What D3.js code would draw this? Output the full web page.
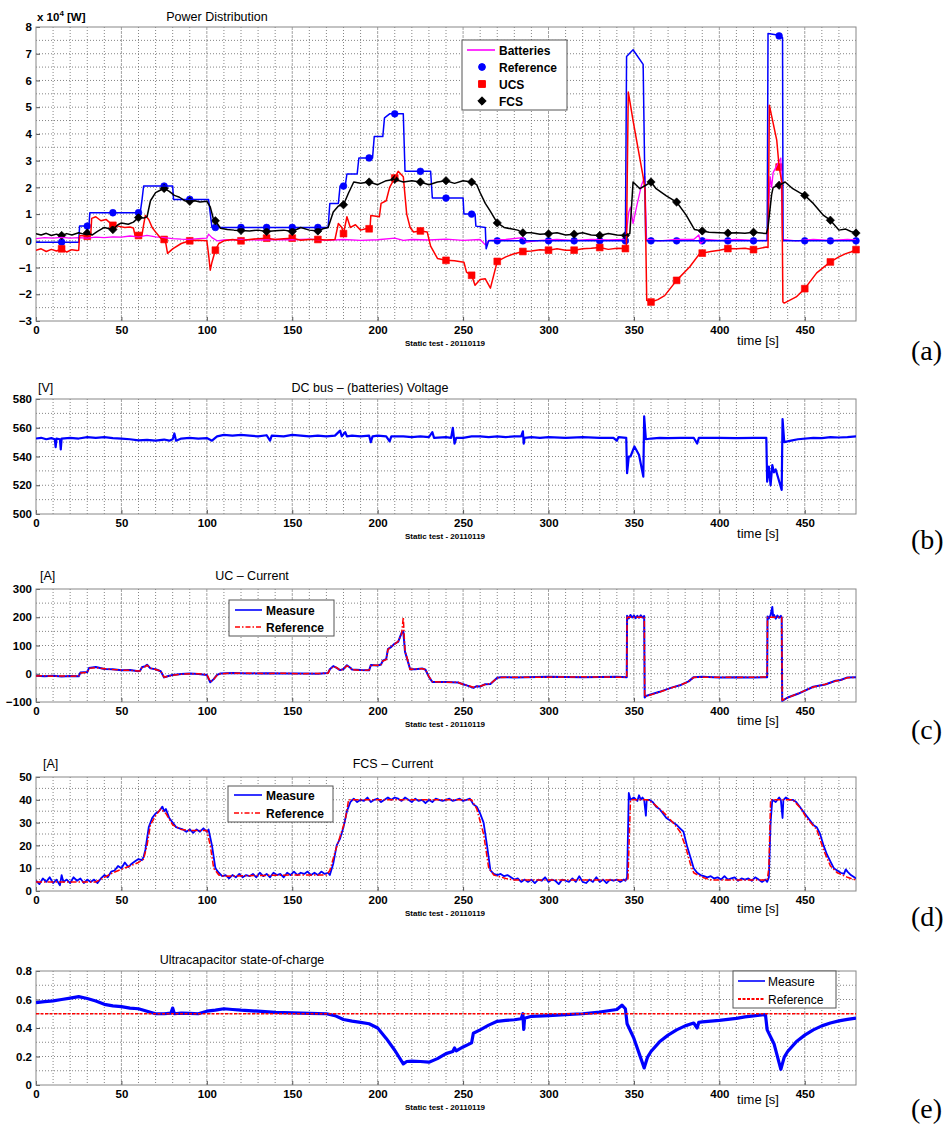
<!DOCTYPE html>
<html><head><meta charset="utf-8">
<script src="https://cdn.jsdelivr.net/npm/d3@7/dist/d3.min.js"></script>
<style>
body{margin:0;background:#fff}
svg{display:block}
</style>
</head><body>
<svg id="chart" width="951" height="1125" font-family="'Liberation Sans',Arial,sans-serif"></svg>
<script>
// ---------------- DATA ----------------
const timeTicks = [0,50,100,150,200,250,300,350,400,450];
const markerTimes = [15,30,45,60,75,90,105,120,135,150,165,180,195,210,225,240,255,270,285,300,315,330,345,360,375,390,405,420,435,450,465,480];

// Panel (a) Power distribution, x10^4 W
const powerTicks = [-3,-2,-1,0,1,2,3,4,5,6,7,8];
const batteries = [[0,0.08],[5,0.12],[10,0.1],[15,0.13],[20,0.1],[25,0.12],[30,0.1],[35,0.14],[40,0.12],[45,0.15],[50,0.14],[55,0.18],[60,0.15],[65,0.2],[70,0.15],[75,0.12],[80,0.08],[85,0.06],[90,0.05],[95,0.08],[100,0.1],[101,0.25],[103,0.12],[106,0.0],[110,0.03],[120,0.05],[130,0.03],[140,0.05],[150,0.04],[160,0.06],[170,0.02],[180,0.05],[190,0.02],[200,0.04],[210,0.1],[215,0.02],[220,0.05],[230,0.03],[240,0.06],[250,0.02],[260,0.05],[263,-0.15],[265,0.02],[275,0.05],[285,0.12],[287,-0.05],[295,0.02],[305,0.05],[315,0.02],[325,0.05],[335,0.03],[344,0.05],[345,0.0],[346,0.5],[347,1.08],[348,1.26],[349.5,0.65],[352,1.4],[354.5,2.1],[356.4,2.4],[357.4,0.05],[365,0.0],[375,0.05],[385,0.05],[388,0.22],[389,-0.1],[392,0.05],[400,0.02],[410,0.05],[420,0.02],[428,0.02],[429,1.5],[429.7,2.4],[430.6,2.0],[431.5,2.55],[433.5,2.8],[436,3.1],[437,0.05],[445,0.0],[455,0.05],[465,0.02],[475,0.05],[480,0.03]];
const referencePower = [[0,-0.05],[25,-0.05],[25.5,0.55],[31,0.55],[31.5,1.05],[61,1.05],[62,1.5],[63,2.05],[80,2.05],[80.5,1.55],[101,1.55],[103,0.5],[171,0.5],[172,1.4],[177,1.4],[178,2.05],[181,2.05],[182,2.5],[188,2.5],[189,3.1],[197,3.1],[198,3.9],[203,3.9],[204,4.6],[207,4.75],[215,4.75],[216,2.6],[231,2.6],[232,1.6],[250,1.6],[250.5,1.0],[257,1.0],[257.5,0.55],[263,0.5],[263.5,-0.3],[265,0],[345,0],[345.7,6.9],[349.5,7.15],[355.4,6.6],[356.9,0],[428,0],[428.5,7.76],[434,7.7],[437,7.6],[437.3,0],[480,0]];
const ucsPower = [[0,-0.35],[3,-0.3],[6,-0.4],[9,-0.32],[12,-0.38],[15,-0.3],[18,-0.42],[21,-0.33],[24,-0.36],[25,-0.35],[25.5,0.2],[30,0.17],[32,0.2],[32.6,0.84],[35,0.9],[38,0.75],[41,0.8],[45,0.58],[48,0.55],[52,0.5],[55,0.52],[57,0.48],[58,0.2],[62,0.2],[63,0.6],[64,0.95],[66,0.8],[68,0.5],[70.6,0.28],[73,0.1],[75,0.05],[76,-0.1],[77,-0.47],[80,-0.3],[85,-0.1],[90,0],[95,0.02],[100,0],[101,-0.5],[102,-1.1],[103,-0.8],[105,-0.35],[107,-0.1],[110,0],[115,0.05],[120,0.0],[125,0.05],[130,0.08],[135,0.1],[140,0.05],[145,0.08],[150,0.1],[155,0.02],[160,0.05],[165,0.05],[170,0.03],[175,0.05],[177,0.65],[179,0.5],[180,0.27],[182,0.9],[184,0.5],[187,0.6],[190,0.4],[193,0.45],[195.5,0.45],[196,0.95],[201,0.9],[202,1.4],[205,1.5],[207,2.0],[210,2.35],[212,2.6],[215,2.4],[217,1.0],[219,0.5],[221,0.33],[225,0.37],[229,0.33],[231,-0.2],[235,-0.66],[240,-0.73],[245,-0.75],[250.5,-0.8],[252,-1.17],[255,-1.29],[257,-1.66],[260,-1.45],[263,-1.42],[266,-1.77],[270,-0.77],[275,-0.6],[279,-0.5],[285,-0.4],[290,-0.38],[295,-0.33],[300,-0.35],[305,-0.3],[310,-0.35],[315,-0.35],[320,-0.3],[325,-0.28],[330,-0.25],[335,-0.32],[340,-0.28],[345,-0.29],[345.6,-0.29],[346.7,5.57],[349.5,4.5],[355.4,2.39],[356.5,1.9],[357.5,-2.23],[360,-2.29],[364,-2.2],[368,-2.05],[375,-1.48],[382.6,-0.98],[388.5,-0.48],[390,-0.46],[395,-0.4],[400,-0.35],[405,-0.29],[410,-0.3],[415,-0.28],[420,-0.33],[427.5,-0.23],[428.5,-0.25],[429.3,5.07],[433.6,3.77],[435,2.76],[436.6,2.2],[437.2,-2.29],[438,-2.33],[445,-2.1],[450,-1.79],[457,-1.2],[465,-0.79],[470,-0.6],[474,-0.48],[477,-0.42],[480,-0.33]];
const fcsPower = [[0,0.27],[3,0.22],[6,0.28],[9,0.2],[12,0.25],[15,0.2],[18,0.27],[21,0.22],[25,0.3],[28,0.25],[30,0.29],[33,0.22],[36,0.35],[40,0.5],[43,0.45],[45,0.42],[48,0.6],[50,0.67],[54,0.62],[57,0.7],[60,0.87],[63,0.85],[65,0.9],[67,1.5],[70,1.8],[73,1.9],[75,1.96],[78,1.85],[81,1.7],[84,1.63],[87,1.5],[90,1.48],[93,1.5],[96,1.45],[100,1.48],[102,1.27],[104,0.78],[105,0.75],[108,0.47],[112,0.42],[116,0.4],[120,0.39],[125,0.37],[130,0.4],[135,0.35],[140,0.38],[145,0.4],[150,0.35],[155,0.5],[160,0.4],[165,0.37],[168,0.45],[171,0.5],[174,1.08],[177,1.3],[180,1.35],[183,1.8],[186,2.2],[190,2.15],[195,2.2],[200,2.1],[205,2.25],[210,2.3],[215,2.2],[220,2.25],[225,2.2],[230,2.1],[235,2.2],[240,2.25],[245,2.15],[250,2.25],[255,2.2],[258,2.1],[260,1.8],[263,1.4],[266,1.1],[270,0.67],[274,0.5],[278,0.45],[282,0.4],[285,0.3],[290,0.3],[295,0.25],[300,0.26],[305,0.3],[310,0.22],[315,0.25],[320,0.3],[325,0.22],[330,0.2],[335,0.27],[340,0.22],[345,0.2],[347.6,0.27],[348.6,1.26],[349.5,2.2],[353.5,1.95],[356.4,2.06],[360,2.2],[363,1.95],[369,1.68],[375,1.45],[380.5,0.97],[385.5,0.42],[390,0.37],[394,0.32],[400,0.3],[405,0.29],[410,0.3],[415,0.28],[420,0.32],[427.5,0.27],[428.5,0.5],[430.6,1.73],[431.5,2.0],[435,2.08],[438.5,2.2],[443,1.95],[447,1.8],[450,1.7],[455,1.4],[461,0.95],[465,0.77],[470,0.4],[474,0.44],[477,0.35],[480,0.29]];

// Panel (b) DC bus voltage, V
const voltTicks = [500,520,540,560,580];
const busVoltage = [[0,552.5],[3,553],[6,552],[9,552.8],[11,552],[11.5,546.5],[12,552.5],[14,552],[14.5,545],[15,552.5],[20,553],[25,552.5],[30,553.5],[35,553],[40,553.5],[45,552.8],[50,552.5],[55,552],[60,551.2],[65,551.5],[70,551],[75,551.8],[78,551],[80,552],[81,556],[82,551],[85,552.5],[90,553],[95,552.5],[100,552.8],[103,551],[106,554],[110,555],[115,554.5],[120,555],[125,554.5],[130,554],[135,554.8],[137,551],[138,554.5],[145,554],[150,555],[155,554.5],[160,554],[165,554.5],[170,554],[175,554.5],[178,558],[179,554],[181,557],[182,554],[185,554.5],[190,554],[195,554.5],[196,550],[197,554],[200,554.5],[205,554],[207,550.5],[208,554],[215,554],[220,553.5],[225,554],[230,553.5],[232,557],[233,553],[240,553.5],[243,553],[244,560],[245,549],[246,553],[250,553],[255,554],[260,554],[265,553.5],[270,554],[275,553.5],[280,554],[284,554],[285,557.5],[285.5,549],[286,553],[290,553.5],[295,553],[300,553.5],[310,553],[320,553.5],[330,553],[338,553],[340,551],[341,553.5],[345.5,553],[346,528.4],[347,540],[348,540],[350.3,547],[353,541],[355.5,526],[356,568],[357,552],[360,552.5],[365,553],[370,552.8],[377,553],[385,553],[387,549],[388,553],[395,553],[400,553],[410,552.8],[420,553],[427.5,553],[428,522.5],[429,533],[430,520],[431,534],[432,529],[433,531],[436.5,516.8],[437,566],[438,550],[442,551],[446,552],[455,553],[460,552.8],[465,553.5],[470,553.2],[475,553.5],[480,554]];

// Panel (c) UC current, A
const ucTicks = [-100,0,100,200,300];
const ucReference = [[0,-8],[5,-7],[10,-9],[15,-8],[20,-9],[25,-8],[26,3],[30,5],[31,19],[35,22],[40,18],[45,15],[50,13],[55,12],[60,10],[61,10],[62,22],[64,25],[65,30],[67,20],[70,15],[73,10],[75,-12],[77,-10],[80,-5],[85,-2],[90,0],[95,0],[100,-3],[102,-28],[104,-20],[106,-5],[108,0],[115,2],[125,2],[135,1],[145,2],[155,0],[165,1],[171,2],[172,15],[174,25],[176,22],[178,12],[180,16],[182,28],[184,22],[185,14],[190,12],[195,13],[196,30],[200,30],[202,32],[203,45],[205,50],[206,85],[208,97],[210,105],[212,115],[214,140],[215,200],[216,80],[217,60],[219,15],[222,17],[226,18],[228,15],[230,-10],[232,-28],[240,-30],[247,-30],[250,-38],[253,-42],[256,-48],[258,-45],[260,-44],[263,-38],[266,-35],[270,-15],[272,-13],[280,-12],[300,-12],[320,-11],[340,-12],[345.8,-12],[346,200],[356.1,200],[356.3,-82],[357,-80],[365,-65],[372,-50],[377,-40],[382,-28],[385,-13],[390,-12],[400,-12],[410,-13],[420,-12],[428,-11],[428.2,200],[436.5,200],[436.8,-94],[440,-85],[446,-70],[455,-47],[462,-37],[468,-26],[471,-23],[475,-14],[480,-13]];
const ucMeasure = [[0,-7],[5,-9],[10,-7],[15,-10],[20,-8],[25,-9],[26,4],[30,6],[31,20],[35,24],[40,17],[45,16],[50,12],[55,13],[60,9],[61,11],[62,23],[64,27],[65,32],[67,19],[70,16],[73,9],[75,-13],[77,-9],[80,-4],[85,-1],[90,1],[95,-1],[100,-4],[102,-30],[104,-19],[106,-4],[108,1],[115,3],[125,1],[135,2],[145,1],[155,1],[165,0],[171,3],[172,16],[174,27],[176,21],[178,13],[180,17],[182,30],[184,21],[185,15],[190,13],[195,12],[196,31],[200,29],[202,33],[203,46],[205,52],[206,87],[208,95],[210,107],[212,113],[214,145],[215,150],[216,78],[217,58],[219,16],[222,16],[226,19],[228,14],[230,-11],[232,-29],[240,-29],[247,-31],[250,-37],[253,-43],[256,-50],[258,-44],[260,-45],[263,-37],[266,-36],[270,-14],[272,-12],[280,-13],[300,-11],[320,-12],[340,-11],[345.8,-12],[346,205],[347,196],[348,208],[349,199],[350,206],[351,197],[352,205],[353,198],[354,207],[355,199],[356,204],[356.3,-84],[357,-79],[365,-64],[372,-49],[377,-41],[382,-27],[385,-12],[390,-11],[400,-13],[410,-12],[420,-13],[428,-12],[428.2,203],[429,196],[430,207],[431,236],[431.5,200],[432,208],[433,195],[434,206],[435,198],[436,205],[436.5,199],[436.8,-96],[440,-84],[446,-71],[455,-46],[462,-38],[468,-25],[471,-22],[475,-13],[480,-12]];

// Panel (d) FCS current, A
const fcsTicks = [0,10,20,30,40,50];
const fcsReference = [[0,4],[35,4],[40,6],[45,8],[50,9.5],[55,11],[60,12.5],[63,14],[65,20],[67,29],[70,33],[73,36],[76,34],[80,29],[85,27],[90,26.5],[100,26.5],[102,20],[104,10],[107,7],[110,6.5],[130,6.8],[150,7],[170,7],[172,9],[175,17],[178,24],[181,31],[183,40],[255,40],[258,36],[262,25],[265,10],[268,7],[275,5.5],[280,4.8],[345,4.8],[346.5,5],[348,40],[358,40],[362,38],[368,34],[374,29],[377,26],[380,20],[383,12],[385,8],[390,6],[395,4.8],[428,4.8],[429,10],[430,40],[443,40],[448,36],[451,32],[457,27],[461,18],[465,11],[469,8],[475,6],[480,4.8]];
const fcsMeasure = [[0,4.5],[2,3],[4,5.5],[6,4],[8,6],[10,3.5],[12,5],[14,2.5],[15,7],[16,4],[18,5],[20,3.5],[22,6],[24,4.5],[26,5.5],[28,3.5],[30,5],[32,4],[34,5],[36,3.5],[38,5.5],[40,7],[42,6],[44,8.5],[46,9],[48,11],[50,10],[52,12.5],[54,10.5],[56,12],[58,13],[60,14],[62,13.5],[63,15],[64,18],[66,28],[68,32],[70,34],[72,35],[74,37],[75,35],[76,36],[78,32],[80,30],[82,28],[84,27.5],[86,27],[88,26],[90,27],[92,25.5],[94,27],[96,26],[98,27.5],[100,26],[101,27],[103,20],[105,10],[107,8],[109,6.5],[111,7],[113,5.5],[115,7],[117,6],[119,7.5],[121,6],[123,7],[125,6.5],[127,7.5],[129,6],[131,8],[133,6.5],[135,7.5],[137,6],[139,8],[141,7],[143,7.5],[145,6],[147,8],[149,7],[151,8.5],[153,7],[155,8],[157,7.5],[159,8.5],[161,7],[163,8],[165,7],[167,8.5],[169,7.5],[171,8],[172,7],[174,12],[176,20],[178,23],[180,28],[182,35],[184,39],[186,40.5],[188,39],[190,40],[192,39.5],[194,41],[196,39],[198,40],[200,40.5],[202,39],[204,40],[206,41],[208,40],[210,41],[212,40.5],[214,39.5],[216,41],[218,40],[220,39],[222,40.5],[224,39.5],[226,40],[228,38.5],[230,40],[232,39],[234,40.5],[236,40],[238,39.5],[240,40],[242,40.5],[244,39.5],[246,40],[248,40.5],[250,39.5],[252,40],[254,40.5],[256,38],[258,37],[260,34],[262,30],[264,20],[266,9],[268,7.5],[270,7],[272,7.5],[274,6.5],[276,7],[278,6],[280,5],[282,5.5],[284,4],[286,5],[288,4],[290,5],[292,3.5],[294,5],[296,4.5],[298,6],[300,4],[302,5],[304,4.5],[306,3],[308,5],[310,4.5],[312,4],[314,5.5],[316,4],[318,6.5],[320,4],[322,3.5],[324,5],[326,4],[328,6],[330,4],[332,5],[334,3.5],[336,5],[338,4.5],[340,5],[342,4],[344,5],[345,4.5],[346,6],[347,43],[348,40],[350,41],[352,39.5],[353,42],[354,40],[355,41],[356,40],[357,33],[357.5,40],[359,40],[361,39],[363,37],[365,36],[367,34],[369,32],[371,31],[373,30],[375,29],[377,27.5],[379,26],[381,20],[383,15],[385,10],[387,8],[389,7],[391,6.5],[393,6],[395,6.5],[397,5.5],[399,6],[401,5],[403,6.5],[405,5],[407,5.5],[409,6],[411,4.5],[413,5.5],[415,5],[417,5.5],[419,4.5],[421,6],[423,5],[425,4],[427,5],[428,4],[429,6],[430,30],[431,40],[433,39],[435,41],[436,40],[437,32],[437.5,40],[439,41],[441,40],[443,40],[445,39],[447,37],[449,35],[451,33],[453,31],[455,29],[457,28],[459,25],[461,20],[463,16],[465,13],[467,10],[469,9],[471,8],[473,7.5],[474,9.5],[475,8.5],[477,7],[479,6],[480,5.5]];

// Panel (e) Ultracapacitor state of charge
const socTicks = [0,0.2,0.4,0.6,0.8];
const socReference = [[0,0.5],[480,0.5]];
const socMeasure = [[0,0.578],[5,0.585],[10,0.59],[15,0.6],[20,0.61],[25,0.62],[30,0.607],[35,0.59],[40,0.566],[45,0.555],[50,0.55],[55,0.54],[60,0.535],[65,0.518],[70,0.5],[75,0.5],[79,0.505],[80,0.54],[81,0.5],[85,0.505],[90,0.503],[95,0.5],[100,0.518],[105,0.525],[110,0.535],[115,0.53],[120,0.525],[130,0.518],[140,0.51],[150,0.506],[160,0.503],[170,0.5],[175,0.487],[180,0.46],[185,0.448],[190,0.44],[195,0.43],[200,0.4],[205,0.327],[210,0.244],[215,0.148],[217,0.165],[220,0.167],[225,0.165],[230,0.16],[235,0.185],[240,0.22],[244,0.235],[245,0.26],[246,0.24],[250,0.267],[255,0.296],[256,0.363],[260,0.387],[265,0.42],[270,0.447],[275,0.453],[280,0.458],[284,0.465],[285,0.5],[285.5,0.39],[286,0.468],[290,0.482],[300,0.487],[310,0.494],[320,0.5],[330,0.512],[340,0.53],[343,0.56],[345,0.535],[346,0.43],[350,0.327],[356,0.12],[358,0.196],[360,0.235],[365,0.303],[370,0.35],[375,0.387],[380,0.415],[385,0.435],[387,0.4],[388,0.44],[390,0.443],[400,0.454],[410,0.468],[415,0.478],[420,0.485],[427,0.494],[428,0.387],[432,0.29],[436,0.11],[438,0.196],[440,0.235],[445,0.303],[450,0.35],[455,0.387],[460,0.415],[465,0.435],[470,0.45],[475,0.46],[480,0.47]];

// ---------------- DRAWING ----------------
const svg = d3.select("#chart");
const SANS = "'Liberation Sans',Arial,sans-serif";
const SERIF = "'Liberation Serif','DejaVu Serif',serif";
const X0 = 36, X1 = 856;
const x = d3.scaleLinear().domain([0,480]).range([X0,X1]);

function interpAt(series, t){
  for (let i=1;i<series.length;i++){
    if (series[i][0] >= t){
      const a=series[i-1], b=series[i];
      const f=(t-a[0])/(b[0]-a[0]||1);
      return a[1]+(b[1]-a[1])*f;
    }
  }
  return series[series.length-1][1];
}

function panel(o){
  const y = d3.scaleLinear().domain(o.domain).range([o.bottom,o.top]);
  const g = svg.append("g");
  const minorX = d3.range(10,480,10).filter(v=>v%50!==0);
  const majorX = timeTicks.filter(v=>v>0);
  g.selectAll(".gxm").data(minorX).enter().append("line")
    .attr("x1",d=>x(d)).attr("x2",d=>x(d)).attr("y1",o.top).attr("y2",o.bottom)
    .attr("stroke","#666").attr("stroke-width",0.8).attr("stroke-dasharray","1,2");
  g.selectAll(".gxM").data(majorX).enter().append("line")
    .attr("x1",d=>x(d)).attr("x2",d=>x(d)).attr("y1",o.top).attr("y2",o.bottom)
    .attr("stroke","#999").attr("stroke-width",0.9).attr("stroke-dasharray","3,1");
  const ys = d3.range(Math.round((o.domain[1]-o.domain[0])/o.gridStep)+1).map(i=>o.domain[0]+i*o.gridStep)
    .filter(v=>v>o.domain[0]+1e-9 && v<o.domain[1]-1e-9);
  g.selectAll(".gy").data(ys).enter().append("line")
    .attr("x1",X0).attr("x2",X1).attr("y1",d=>y(d)).attr("y2",d=>y(d))
    .attr("stroke","#666").attr("stroke-width",0.8).attr("stroke-dasharray","1,2");
  const ax = g.append("g").attr("transform",`translate(0,${o.bottom})`)
    .call(d3.axisBottom(x).tickValues(timeTicks).tickSize(-4).tickPadding(5).tickFormat(d3.format("d")));
  const ay = g.append("g").attr("transform",`translate(${X0},0)`)
    .call(d3.axisLeft(y).tickValues(o.ticks).tickSize(-4).tickPadding(4).tickFormat(o.fmt||d3.format("d")));
  [ax,ay].forEach(a=>{
    a.attr("font-family",null).attr("font-size",null);
    a.select(".domain").remove();
    a.selectAll("line").attr("stroke","#555");
    a.selectAll("text").style("font-size","11.5px").style("font-weight","bold")
      .style("font-family",SANS).attr("fill","#000");
  });
  g.append("rect").attr("x",X0).attr("y",o.top).attr("width",X1-X0).attr("height",o.bottom-o.top)
    .attr("fill","none").attr("stroke","#888").attr("stroke-width",1);
  g.append("text").attr("x",o.titleX).attr("y",o.titleY).attr("text-anchor","middle")
    .style("font-size","12.5px").style("font-family",SANS).text(o.title);
  g.append("text").attr("x",758).attr("y",o.bottom+o.timeDy).attr("text-anchor","middle")
    .style("font-size","13px").style("font-family",SANS).text("time [s]");
  g.append("text").attr("x",445).attr("y",o.bottom+25).attr("text-anchor","middle")
    .style("font-size","8px").style("font-weight","bold").style("font-family",SANS).text("Static test - 20110119");
  g.append("text").attr("x",911).attr("y",o.panelY)
    .style("font-size","28px").style("font-family",SERIF).text(o.panelLabel);
  const clip = "clip"+o.panelLabel.replace(/\W/g,"");
  svg.append("clipPath").attr("id",clip).append("rect")
    .attr("x",X0).attr("y",o.top-1).attr("width",X1-X0).attr("height",o.bottom-o.top+2);
  const plot = svg.append("g").attr("clip-path",`url(#${clip})`);
  return {g,y,plot};
}

function drawLine(p, data, color, width, dash){
  const line = d3.line().x(d=>x(d[0])).y(d=>p.y(d[1]));
  p.plot.append("path").datum(data).attr("d",line).attr("fill","none")
    .attr("stroke",color).attr("stroke-width",width).attr("stroke-linejoin","round")
    .attr("stroke-dasharray",dash||null);
}

function markerPath(type){
  if (type==="circle") return d3.symbol().type(d3.symbolCircle).size(36)();
  if (type==="square") return d3.symbol().type(d3.symbolSquare).size(46)();
  return "M0,-4.2L4.2,0L0,4.2L-4.2,0Z";
}

function drawMarkers(p, data, type, color){
  p.g.selectAll(null).data(markerTimes).enter().append("path")
    .attr("d",markerPath(type))
    .attr("transform",t=>`translate(${x(t)},${p.y(interpAt(data,t))})`)
    .attr("fill",color).attr("stroke",color).attr("stroke-width",0.6);
}

function legend(g, bx, by, bw, bh, items, bold){
  g.append("rect").attr("x",bx).attr("y",by).attr("width",bw).attr("height",bh)
    .attr("fill","#fff").attr("stroke","#555").attr("stroke-width",1);
  items.forEach(it=>{
    if (it.line) g.append("line").attr("x1",it.x1).attr("x2",it.x2).attr("y1",it.y).attr("y2",it.y)
      .attr("stroke",it.color).attr("stroke-width",it.width||1.6).attr("stroke-dasharray",it.dash||null);
    if (it.marker) g.append("path").attr("d",markerPath(it.marker))
      .attr("transform",`translate(${it.mx},${it.y})`).attr("fill",it.color).attr("stroke",it.color);
    g.append("text").attr("x",it.tx).attr("y",it.y+4.5).style("font-size","12px").style("font-family",SANS)
      .style("font-weight",bold?"bold":"normal").text(it.label);
  });
}

// ---- Panel (a)
const pa = panel({top:27,bottom:321,domain:[-3,8],ticks:powerTicks,gridStep:0.5,
  title:"Power Distribution",titleX:217,titleY:20.5,timeDy:23.5,panelLabel:"(a)",panelY:360});
drawLine(pa, batteries, "#ff00ff", 1.3);
drawLine(pa, referencePower, "#0000ff", 1.5);
drawMarkers(pa, referencePower, "circle", "#0000ff");
drawLine(pa, ucsPower, "#ff0000", 1.5);
drawMarkers(pa, ucsPower, "square", "#ff0000");
drawLine(pa, fcsPower, "#000000", 1.5);
drawMarkers(pa, fcsPower, "diamond", "#000000");
const ua = pa.g.append("text").attr("x",37).attr("y",20.5).style("font-size","11.5px").style("font-weight","bold").style("font-family",SANS);
ua.append("tspan").text("x 10");
ua.append("tspan").attr("dy",-5).style("font-size","8px").text("4");
ua.append("tspan").attr("dy",5).text(" [W]");
legend(pa.g, 462, 40, 105, 70, [
  {line:true,x1:467,x2:495,y:50,color:"#ff00ff",tx:499,label:"Batteries"},
  {marker:"circle",mx:482,y:67,color:"#0000ff",tx:499,label:"Reference"},
  {marker:"square",mx:482,y:84,color:"#ff0000",tx:499,label:"UCS"},
  {marker:"diamond",mx:482,y:101,color:"#000",tx:499,label:"FCS"}], true);

// ---- Panel (b)
const pb = panel({top:399,bottom:514,domain:[500,580],ticks:voltTicks,gridStep:10,
  title:"DC bus – (batteries) Voltage",titleX:370,titleY:391.5,timeDy:24,panelLabel:"(b)",panelY:549});
drawLine(pb, busVoltage, "#0000ff", 2.2);
pb.g.append("text").attr("x",38).attr("y",392).style("font-size","12.5px").style("font-family",SANS).text("[V]");

// ---- Panel (c)
const pc = panel({top:589,bottom:702,domain:[-100,300],ticks:ucTicks,gridStep:50,
  title:"UC – Current",titleX:252,titleY:580,timeDy:23,panelLabel:"(c)",panelY:739});
drawLine(pc, ucMeasure, "#0000ff", 2);
drawLine(pc, ucReference, "#ff0000", 1.5, "6,2,1.5,2");
pc.g.append("text").attr("x",40).attr("y",580).style("font-size","12.5px").style("font-family",SANS).text("[A]");
legend(pc.g, 229, 600, 105, 36, [
  {line:true,x1:235,x2:262,y:610,color:"#0000ff",tx:266,label:"Measure"},
  {line:true,x1:235,x2:262,y:627,color:"#ff0000",dash:"5,2,1.5,2",tx:266,label:"Reference"}], true);

// ---- Panel (d)
const pd = panel({top:777,bottom:891,domain:[0,50],ticks:fcsTicks,gridStep:5,
  title:"FCS  – Current",titleX:393,titleY:768,timeDy:22,panelLabel:"(d)",panelY:926});
drawLine(pd, fcsMeasure, "#0000ff", 1.8);
drawLine(pd, fcsReference, "#ff0000", 1.5, "6,2,1.5,2");
pd.g.append("text").attr("x",43).attr("y",768).style("font-size","12.5px").style("font-family",SANS).text("[A]");
legend(pd.g, 228, 786, 105, 36, [
  {line:true,x1:234,x2:262,y:795,color:"#0000ff",tx:266,label:"Measure"},
  {line:true,x1:234,x2:262,y:813,color:"#ff0000",dash:"5,2,1.5,2",tx:266,label:"Reference"}], true);

// ---- Panel (e)
const pe = panel({top:971,bottom:1085,domain:[0,0.8],ticks:socTicks,gridStep:0.1,fmt:d3.format(".1f"),
  title:"Ultracapacitor state-of-charge",titleX:242,titleY:964,timeDy:19,panelLabel:"(e)",panelY:1118});
pe.g.selectAll("text").filter(function(){return this.textContent==="0.0";}).text("0");
drawLine(pe, socMeasure, "#0000ff", 3.2);
drawLine(pe, socReference, "#ff0000", 1.6, "3,1.5");
legend(pe.g, 733, 971, 103, 37, [
  {line:true,x1:738,x2:765,y:981,color:"#0000ff",tx:768,label:"Measure"},
  {line:true,x1:738,x2:765,y:999,color:"#ff0000",dash:"3,1.5",width:2,tx:768,label:"Reference"}], false);
</script>
</body></html>
